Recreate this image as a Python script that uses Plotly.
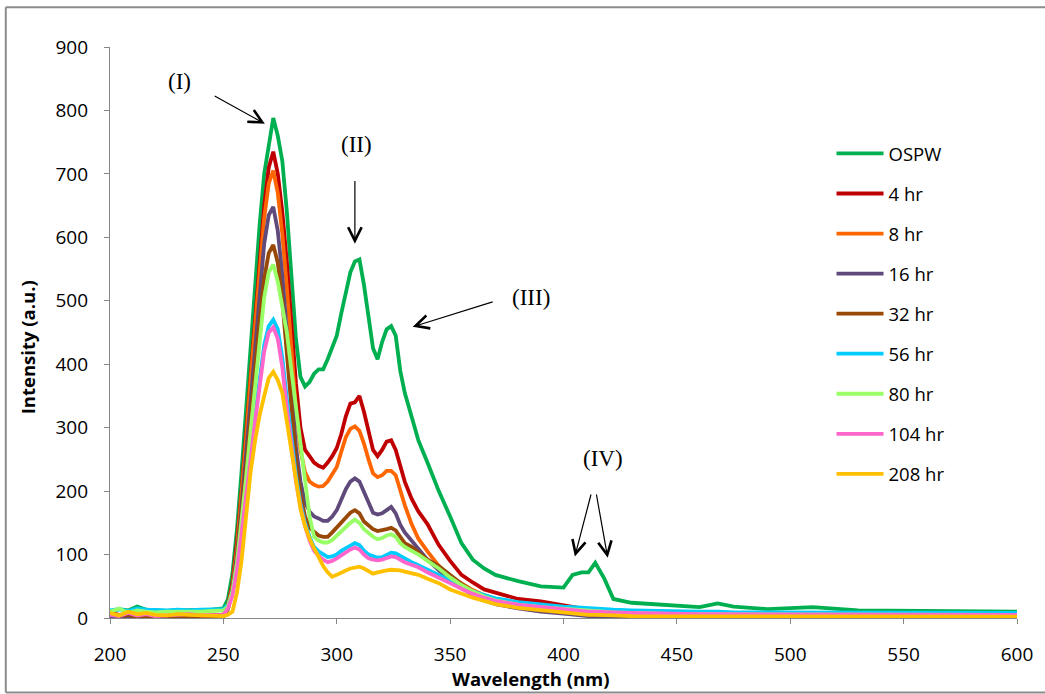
import plotly.graph_objects as go

# Emission wavelength grid (nm)
WAVELENGTH = [
    200, 204, 208, 212, 216, 220, 225, 230, 235, 240, 245, 250,
    252, 254, 256, 258, 260, 262, 264, 266, 268, 270,
    272, 274, 276, 278, 280, 282, 284, 286, 288, 290,
    292, 294, 296, 298, 300, 302, 304, 306, 308, 310,
    312, 314, 316, 318, 320, 322, 324, 326, 328, 330,
    333, 336, 340, 345, 350, 355, 360, 365, 370, 380,
    390, 400, 404, 408, 411, 414, 418, 422, 430, 440,
    450, 460, 468, 475, 490, 510, 530, 550, 575, 600,
]

# Intensity (a.u.) for each treatment time
OSPW = [
    10, 14, 12, 18, 13, 12, 11, 12, 12, 13, 13, 15,
    30, 70, 140, 230, 330, 420, 520, 620, 700, 745,
    788, 760, 720, 640, 540, 440, 380, 365, 372, 385,
    392, 392, 408, 425, 445, 480, 515, 545, 562, 565,
    525, 470, 425, 408, 435, 455, 460, 445, 390, 355,
    318, 280, 245, 200, 160, 118, 92, 78, 68, 58,
    50, 48, 68, 72, 72, 87, 62, 30, 24, 22,
    19, 17, 23, 18, 14, 17, 12, 11, 10, 10,
]
HR_4 = [
    8, 5, 6, 4, 5, 3, 2, 3, 3, 4, 4, 5,
    20, 55, 120, 200, 290, 390, 480, 570, 650, 710,
    735, 700, 640, 560, 470, 370, 300, 265, 255, 245,
    240, 237, 245, 255, 268, 290, 318, 338, 340, 350,
    325, 292, 265, 255, 265, 278, 280, 265, 240, 215,
    188, 168, 148, 115, 90, 68, 56, 45, 40, 30,
    26, 20, 17, 14, 12, 11, 9, 8, 6, 5,
    4, 4, 3, 3, 3, 2, 2, 2, 2, 2,
]
HR_8 = [
    6, 4, 7, 3, 4, 2, 3, 2, 3, 3, 4, 4,
    18, 50, 110, 190, 280, 375, 465, 555, 630, 685,
    705, 670, 605, 520, 425, 330, 265, 230, 215, 210,
    207, 208, 215, 228, 238, 262, 285, 298, 302, 295,
    275, 250, 228, 222, 225, 232, 232, 225, 200, 178,
    148, 125, 105, 82, 65, 54, 44, 36, 30, 22,
    17, 12, 10, 9, 8, 7, 6, 5, 4, 3,
    3, 3, 2, 2, 2, 2, 2, 2, 2, 2,
]
HR_16 = [
    3, 1, 2, 0, 1, 1, 0, 0, 1, 0, 1, 2,
    15, 45, 100, 175, 260, 345, 430, 515, 590, 635,
    648, 610, 540, 450, 355, 270, 215, 182, 168, 160,
    157, 153, 153, 160, 170, 188, 203, 215, 220, 215,
    198, 180, 166, 163, 165, 170, 175, 165, 147, 135,
    122, 110, 92, 75, 60, 48, 36, 28, 22, 15,
    10, 7, 5, 4, 3, 3, 2, 2, 1, 1,
    0, 0, 0, 0, 0, 0, 0, 0, 0, 0,
]
HR_32 = [
    9, 3, 5, 2, 3, 2, 2, 1, 2, 2, 2, 3,
    14, 42, 92, 160, 235, 315, 395, 470, 535, 575,
    588, 560, 500, 420, 330, 250, 195, 160, 142, 135,
    130, 128, 128, 135, 143, 152, 160, 166, 170, 165,
    152, 145, 140, 137, 138, 140, 142, 138, 128, 118,
    112, 104, 92, 82, 68, 54, 42, 32, 25, 17,
    12, 9, 8, 7, 6, 6, 5, 5, 4, 3,
    3, 3, 2, 2, 2, 2, 2, 2, 2, 2,
]
HR_56 = [
    12, 14, 11, 15, 13, 12, 12, 13, 12, 13, 14, 14,
    20, 40, 80, 135, 195, 255, 320, 380, 430, 460,
    470, 455, 410, 345, 280, 225, 180, 150, 128, 112,
    105, 100, 96, 97, 100, 106, 110, 114, 118, 115,
    106, 100, 98, 95, 96, 100, 103, 102, 98, 93,
    88, 83, 76, 68, 60, 50, 42, 36, 31, 25,
    21, 18, 17, 16, 15, 14, 14, 13, 12, 11,
    10, 10, 10, 9, 9, 9, 8, 8, 8, 8,
]
HR_80 = [
    10, 15, 8, 12, 10, 9, 10, 10, 9, 10, 11, 12,
    18, 42, 88, 150, 220, 295, 370, 440, 505, 545,
    557, 530, 490, 450, 390, 330, 270, 213, 160, 128,
    122, 119, 119, 123, 130, 135, 143, 150, 155, 150,
    140, 133, 128, 124, 126, 130, 132, 128, 118, 112,
    106, 100, 90, 78, 64, 52, 42, 34, 28, 21,
    17, 14, 13, 12, 11, 10, 10, 9, 8, 7,
    6, 6, 6, 5, 5, 5, 5, 5, 5, 5,
]
HR_104 = [
    5, 3, 8, 4, 6, 3, 4, 5, 6, 4, 5, 5,
    15, 35, 75, 130, 190, 250, 310, 370, 420, 450,
    458, 440, 395, 330, 268, 215, 175, 145, 122, 106,
    98, 92, 88, 90, 94, 99, 103, 108, 111, 108,
    100, 94, 92, 91, 92, 95, 97, 96, 92, 88,
    84, 80, 72, 64, 55, 46, 38, 32, 27, 21,
    17, 13, 12, 11, 10, 10, 9, 9, 8, 7,
    6, 6, 6, 6, 5, 5, 5, 5, 5, 5,
]
HR_208 = [
    8, 4, 10, 6, 8, 5, 4, 6, 5, 4, 3, 3,
    5, 10, 40, 90, 160, 230, 280, 320, 350, 378,
    388, 375, 355, 310, 265, 215, 172, 145, 125, 110,
    95, 82, 72, 65, 68, 72, 75, 78, 80, 81,
    78, 74, 70, 72, 74, 75, 76, 76, 75, 73,
    71, 68, 62, 55, 45, 38, 32, 27, 22, 16,
    12, 8, 7, 6, 5, 5, 4, 4, 3, 3,
    2, 2, 2, 2, 2, 2, 2, 2, 2, 2,
]

SERIES_NAMES = ["OSPW", "4 hr", "8 hr", "16 hr", "32 hr", "56 hr", "80 hr", "104 hr", "208 hr"]
SERIES_VALUES = [OSPW, HR_4, HR_8, HR_16, HR_32, HR_56, HR_80, HR_104, HR_208]
SERIES_COLORS = ["#00B050", "#C00000", "#FF6600", "#604A7B", "#984807",
                 "#00CCFF", "#99FF66", "#FF66CC", "#FFC000"]

X_TICKS = [200, 250, 300, 350, 400, 450, 500, 550, 600]
Y_TICKS = [0, 100, 200, 300, 400, 500, 600, 700, 800, 900]

# Peak labels: (text, x, y) and arrows: (tail x, tail y, head x, head y)
PEAK_LABELS = [("(I)", 230.5, 846), ("(II)", 308.5, 746), ("(III)", 385.5, 505), ("(IV)", 417.3, 252)]
PEAK_ARROWS = [
    (245.5, 824, 268.3, 779),
    (308.0, 691, 308.0, 590),
    (369.4, 499, 333.5, 459),
    (412.3, 197, 405.0, 97),
    (414.4, 197, 419.5, 95),
]

fig = go.Figure()
for name, vals, color in zip(SERIES_NAMES, SERIES_VALUES, SERIES_COLORS):
    fig.add_trace(go.Scatter(
        x=WAVELENGTH, y=vals, name=name, mode="lines",
        legendgroup=name,
        line=dict(color=color, width=3.8),
    ))

for text, x, y in PEAK_LABELS:
    fig.add_annotation(
        x=x, y=y, text=text, showarrow=False,
        font=dict(family="Liberation Serif", size=23, color="#000000"),
    )

for tx, ty, hx, hy in PEAK_ARROWS:
    fig.add_annotation(
        x=hx, y=hy, ax=tx, ay=ty, axref="x", ayref="y",
        text="", showarrow=True, arrowhead=5, arrowsize=2.2,
        arrowwidth=1.2, arrowcolor="#000000",
    )

# Axis titles
fig.add_annotation(
    x=0.464, y=-0.106, xref="paper", yref="paper", text="<b>Wavelength (nm)</b>",
    xanchor="center", yanchor="middle",
    showarrow=False, font=dict(family="Open Sans", size=18.5, color="#000000"),
)
fig.add_annotation(
    x=-0.0915, y=0.474, xref="paper", yref="paper", text="<b>Intensity (a.u.)</b>",
    xanchor="center", yanchor="middle",
    showarrow=False, textangle=-90,
    font=dict(family="Open Sans", size=18.5, color="#000000"),
)

# Chart border (top, left and bottom edges; the right edge falls outside the page)
BORDER = dict(color="#8C8C8C", width=2)
fig.add_shape(type="line", xref="paper", yref="paper",
              x0=-0.1149, x1=1.1, y0=1.0695, y1=1.0695, line=BORDER)
fig.add_shape(type="line", xref="paper", yref="paper",
              x0=-0.1149, x1=-0.1149, y0=-0.1305, y1=1.0695, line=BORDER)
fig.add_shape(type="line", xref="paper", yref="paper",
              x0=-0.1149, x1=1.1, y0=-0.1305, y1=-0.1305, line=BORDER)

axis_common = dict(
    showline=True, linecolor="#868686", linewidth=1.3,
    ticks="outside", tickcolor="#868686", ticklen=5, tickwidth=1.3,
    showgrid=False, zeroline=False,
    tickfont=dict(family="Open Sans", size=19, color="#000000"),
)

fig.update_layout(
    width=1045, height=694,
    margin=dict(l=110, r=21, t=47, b=76),
    paper_bgcolor="white", plot_bgcolor="white",
    xaxis=dict(range=[200, 600], tickvals=X_TICKS, ticklabelstandoff=14, **axis_common),
    yaxis=dict(range=[0, 900], tickvals=Y_TICKS, ticklabelstandoff=12, **axis_common),
    showlegend=True,
    legend=dict(
        x=0.7955, y=0.846, xanchor="left", yanchor="top",
        font=dict(family="Open Sans", size=18.5, color="#000000"),
        tracegroupgap=13, itemwidth=47, bgcolor="rgba(0,0,0,0)",
        traceorder="grouped",
    ),
)

fig.write_html("out.html")
